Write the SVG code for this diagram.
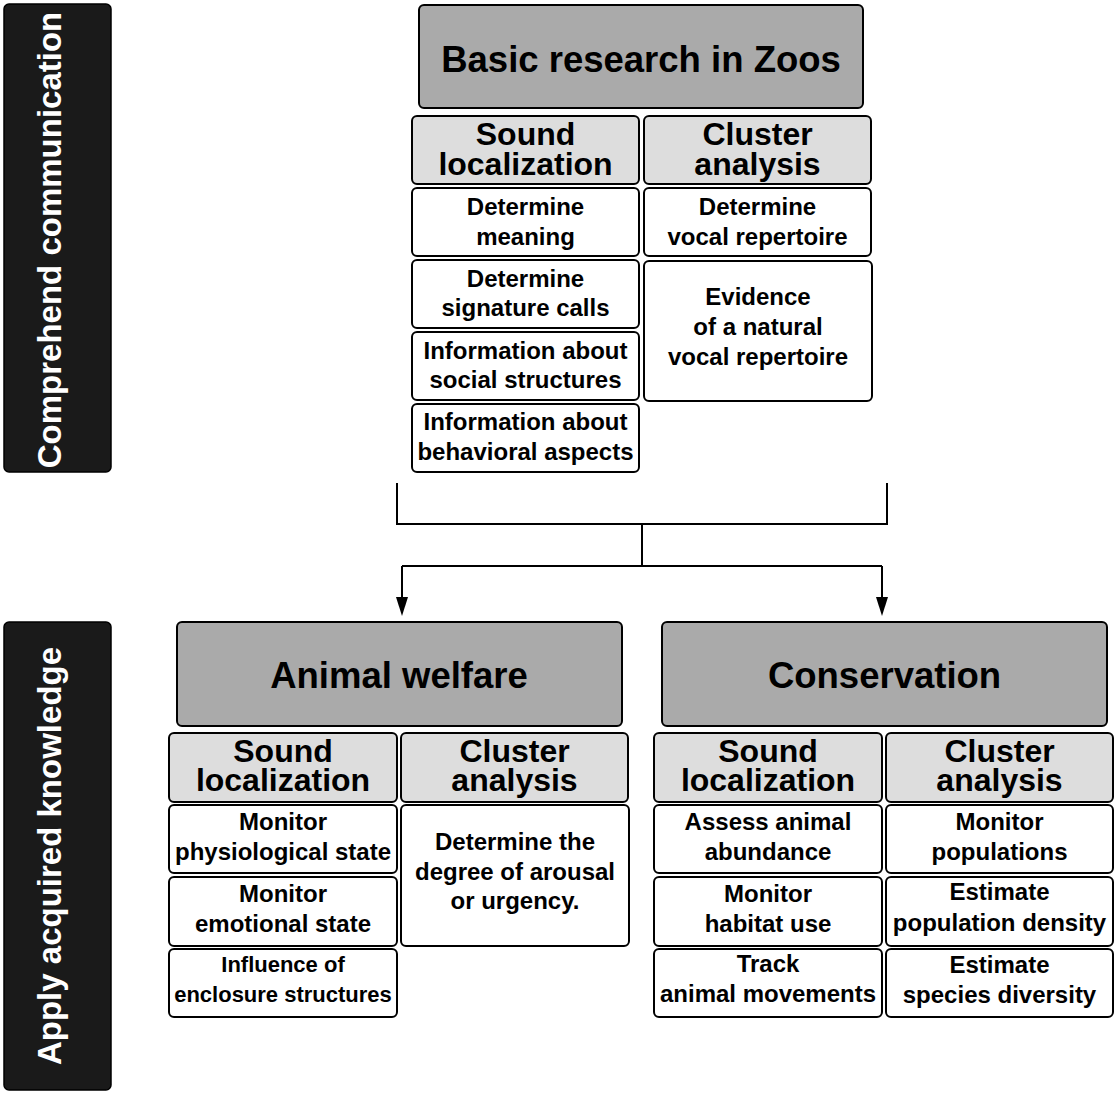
<svg xmlns="http://www.w3.org/2000/svg" width="1118" height="1095" viewBox="0 0 1118 1095">
<defs>
<style>
text{font-family:"Liberation Sans",Arial,Helvetica,sans-serif;font-weight:bold;text-anchor:middle;fill:#000}
.side rect{fill:#1a1a1a;stroke:#000;stroke-width:1.5}
.side text{fill:#fff;font-size:33px}
.main{fill:#aaaaaa;stroke:#000;stroke-width:2}
.sub{fill:#dddddd;stroke:#000;stroke-width:2}
.item{fill:#fff;stroke:#000;stroke-width:2}
.tm{font-size:36.5px}
.ts{font-size:32px}
.ti{font-size:24px}
.tsm{font-size:22px}
.conn path{fill:none;stroke:#000;stroke-width:2}
</style>
<marker id="arr" viewBox="0 0 19 12" refX="0" refY="6" markerWidth="19" markerHeight="12" markerUnits="userSpaceOnUse" orient="auto">
<path d="M0,0 L19,6 L0,12 Z" fill="#000"/>
</marker>
</defs>
<rect width="1118" height="1095" fill="#fff"/>

<g id="side-comprehend" class="side">
<rect x="4" y="4" width="107" height="468" rx="5"/>
<text transform="translate(61,240) rotate(-90)">Comprehend communication</text>
</g>
<g id="side-apply" class="side">
<rect x="4" y="622" width="107" height="468" rx="5"/>
<text transform="translate(61,856) rotate(-90)">Apply acquired knowledge</text>
</g>

<g id="basic">
<rect class="main" x="419" y="5" width="444" height="103" rx="5"/>
<text class="tm" x="641" y="72">Basic research in Zoos</text>
</g>
<g id="top-sound">
<rect class="sub" x="412" y="116" width="227" height="68" rx="5"/>
<text class="ts" x="525.5" y="145">Sound</text>
<text class="ts" x="525.5" y="175">localization</text>
</g>
<g id="top-cluster">
<rect class="sub" x="644" y="116" width="227" height="68" rx="5"/>
<text class="ts" x="757.5" y="145">Cluster</text>
<text class="ts" x="757.5" y="175">analysis</text>
</g>
<g id="top-meaning">
<rect class="item" x="412" y="188" width="227" height="68" rx="5"/>
<text class="ti" x="525.5" y="215">Determine</text>
<text class="ti" x="525.5" y="245">meaning</text>
</g>
<g id="top-signature">
<rect class="item" x="412" y="260" width="227" height="68" rx="5"/>
<text class="ti" x="525.5" y="287">Determine</text>
<text class="ti" x="525.5" y="316">signature calls</text>
</g>
<g id="top-social">
<rect class="item" x="412" y="332" width="227" height="68" rx="5"/>
<text class="ti" x="525.5" y="359">Information about</text>
<text class="ti" x="525.5" y="388">social structures</text>
</g>
<g id="top-behavioral">
<rect class="item" x="412" y="404" width="227" height="68" rx="5"/>
<text class="ti" x="525.5" y="430">Information about</text>
<text class="ti" x="525.5" y="460">behavioral aspects</text>
</g>
<g id="top-repertoire">
<rect class="item" x="644" y="188" width="227" height="68" rx="5"/>
<text class="ti" x="757.5" y="215">Determine</text>
<text class="ti" x="757.5" y="245">vocal repertoire</text>
</g>
<g id="top-evidence">
<rect class="item" x="644" y="261" width="228" height="140" rx="5"/>
<text class="ti" x="758" y="305">Evidence</text>
<text class="ti" x="758" y="335">of a natural</text>
<text class="ti" x="758" y="365">vocal repertoire</text>
</g>

<g id="connectors" class="conn">
<path d="M397,483 V524 H887 V483"/>
<path d="M642,524 V566"/>
<path d="M402,566 H882"/>
<path d="M402,566 V597" marker-end="url(#arr)"/>
<path d="M882,566 V597" marker-end="url(#arr)"/>
</g>

<g id="welfare">
<rect class="main" x="177" y="622" width="445" height="104" rx="5"/>
<text class="tm" x="399" y="688">Animal welfare</text>
</g>
<g id="welfare-sound">
<rect class="sub" x="169" y="733" width="228" height="69" rx="5"/>
<text class="ts" x="283" y="762">Sound</text>
<text class="ts" x="283" y="791">localization</text>
</g>
<g id="welfare-cluster">
<rect class="sub" x="401" y="733" width="227" height="69" rx="5"/>
<text class="ts" x="514.5" y="762">Cluster</text>
<text class="ts" x="514.5" y="791">analysis</text>
</g>
<g id="welfare-physio">
<rect class="item" x="169" y="805" width="228" height="68" rx="5"/>
<text class="ti" x="283" y="830">Monitor</text>
<text class="ti" x="283" y="860">physiological state</text>
</g>
<g id="welfare-emotional">
<rect class="item" x="169" y="877" width="228" height="69" rx="5"/>
<text class="ti" x="283" y="902">Monitor</text>
<text class="ti" x="283" y="932">emotional state</text>
</g>
<g id="welfare-enclosure">
<rect class="item" x="169" y="949" width="228" height="68" rx="5"/>
<text class="tsm" x="283" y="972">Influence of</text>
<text class="tsm" x="283" y="1002">enclosure structures</text>
</g>
<g id="welfare-arousal">
<rect class="item" x="401" y="805" width="228" height="141" rx="5"/>
<text class="ti" x="515" y="850">Determine the</text>
<text class="ti" x="515" y="880">degree of arousal</text>
<text class="ti" x="515" y="909">or urgency.</text>
</g>

<g id="conservation">
<rect class="main" x="662" y="622" width="445" height="104" rx="5"/>
<text class="tm" x="884.5" y="688">Conservation</text>
</g>
<g id="cons-sound">
<rect class="sub" x="654" y="733" width="228" height="69" rx="5"/>
<text class="ts" x="768" y="762">Sound</text>
<text class="ts" x="768" y="791">localization</text>
</g>
<g id="cons-cluster">
<rect class="sub" x="886" y="733" width="227" height="69" rx="5"/>
<text class="ts" x="999.5" y="762">Cluster</text>
<text class="ts" x="999.5" y="791">analysis</text>
</g>
<g id="cons-abundance">
<rect class="item" x="654" y="805" width="228" height="68" rx="5"/>
<text class="ti" x="768" y="830">Assess animal</text>
<text class="ti" x="768" y="860">abundance</text>
</g>
<g id="cons-habitat">
<rect class="item" x="654" y="877" width="228" height="69" rx="5"/>
<text class="ti" x="768" y="902">Monitor</text>
<text class="ti" x="768" y="932">habitat use</text>
</g>
<g id="cons-movements">
<rect class="item" x="654" y="949" width="228" height="68" rx="5"/>
<text class="ti" x="768" y="972">Track</text>
<text class="ti" x="768" y="1002">animal movements</text>
</g>
<g id="cons-populations">
<rect class="item" x="886" y="805" width="227" height="68" rx="5"/>
<text class="ti" x="999.5" y="830">Monitor</text>
<text class="ti" x="999.5" y="860">populations</text>
</g>
<g id="cons-density">
<rect class="item" x="886" y="877" width="227" height="69" rx="5"/>
<text class="ti" x="999.5" y="900">Estimate</text>
<text class="ti" x="999.5" y="931">population density</text>
</g>
<g id="cons-diversity">
<rect class="item" x="886" y="949" width="227" height="68" rx="5"/>
<text class="ti" x="999.5" y="973">Estimate</text>
<text class="ti" x="999.5" y="1003">species diversity</text>
</g>
</svg>
